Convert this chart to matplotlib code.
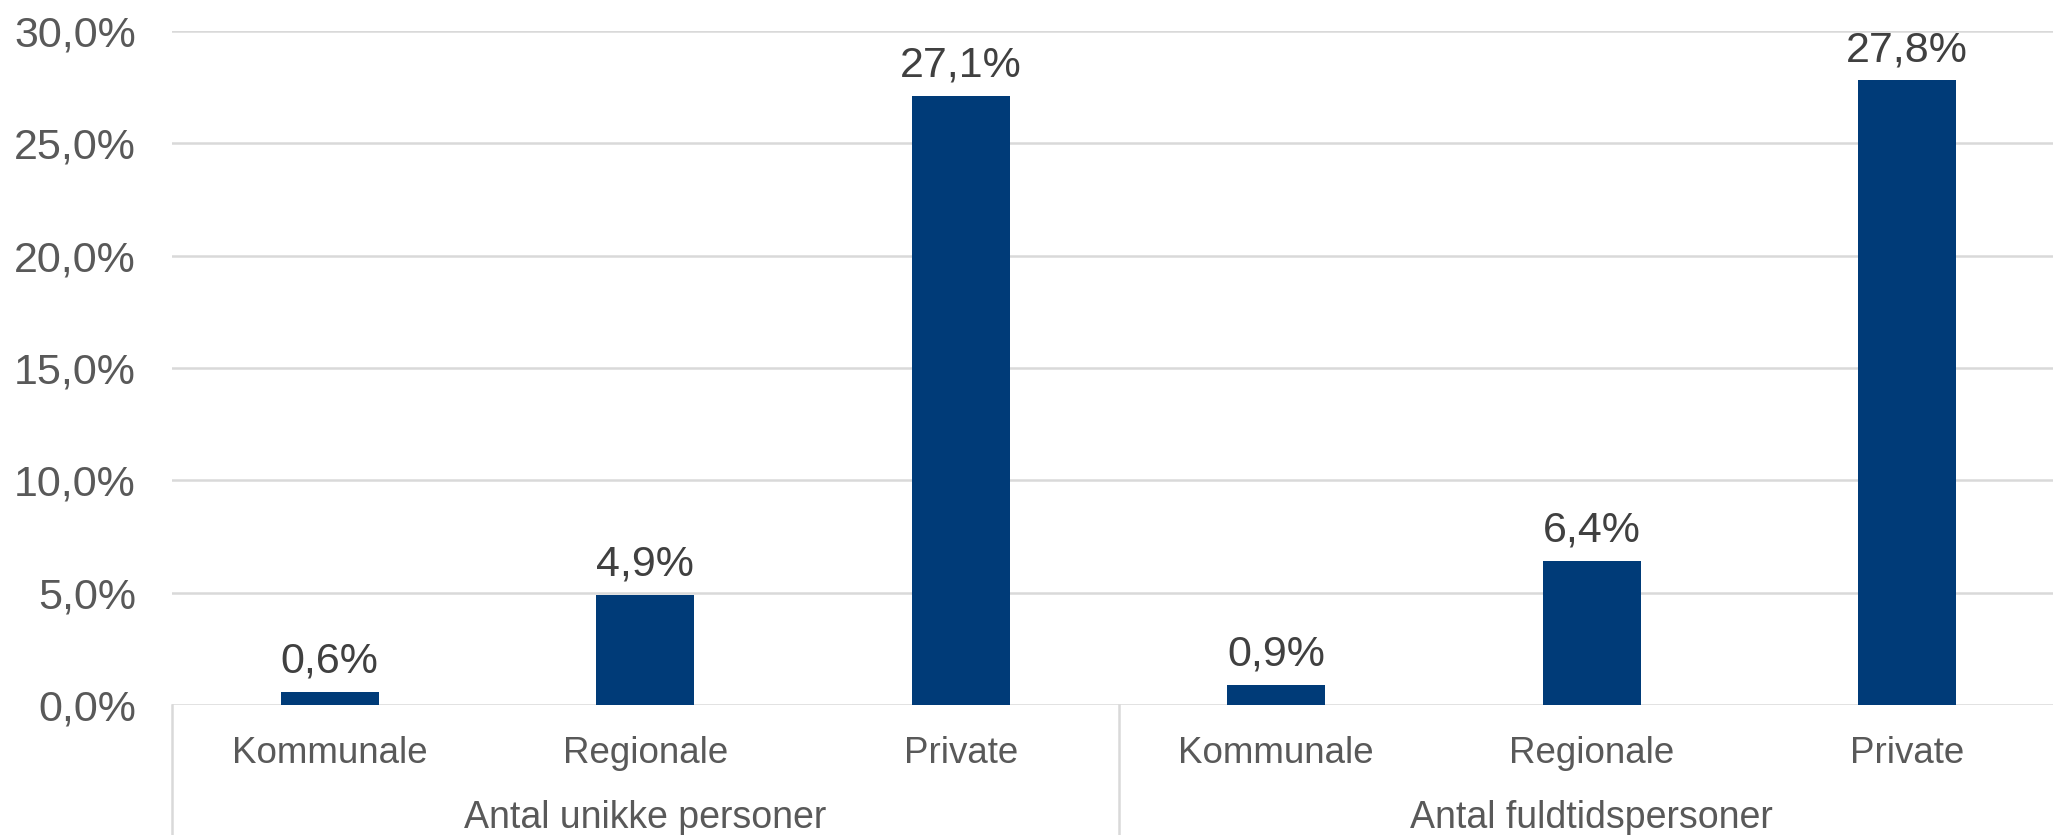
import matplotlib.pyplot as plt
from matplotlib.transforms import blended_transform_factory

plt.rcParams['font.family'] = ['Liberation Sans', 'DejaVu Sans']

# data
groups = ['Antal unikke personer', 'Antal fuldtidspersoner']
categories = ['Kommunale', 'Regionale', 'Private']
values_unikke = [0.6, 4.9, 27.1]
values_fuldtid = [0.9, 6.4, 27.8]
yticks = [0, 5, 10, 15, 20, 25, 30]

values = values_unikke + values_fuldtid
labels = categories * len(groups)
x = list(range(len(values)))

bar_color = '#003B78'
grid_color = '#D9D9D9'
tick_color = '#595959'
label_color = '#404040'

fig = plt.figure(figsize=(20.53, 8.35), dpi=100)
ax = fig.add_axes([172 / 2053, 130 / 835, (2065 - 172) / 2053, 674 / 835])

ax.bar(x, values, width=0.31, color=bar_color, zorder=3)

for xi, v in zip(x, values):
    ax.annotate(f'{v:.1f}%'.replace('.', ','), (xi, v), xytext=(0, 7.5),
                textcoords='offset points', ha='center', va='bottom',
                fontsize=31, color=label_color)

ax.set_xlim(-0.5, len(values) - 0.5)
ax.set_ylim(0, 30)
ax.set_yticks(yticks)
ax.set_yticklabels([f'{t:.1f}%'.replace('.', ',') for t in yticks])
ax.yaxis.grid(True, color=grid_color, linewidth=1.8, zorder=0)
ax.set_axisbelow(True)
for s in ax.spines.values():
    s.set_visible(False)
ax.tick_params(axis='y', length=0, pad=26, labelsize=31, labelcolor=tick_color)

ax.set_xticks(x)
ax.set_xticklabels(labels)
ax.tick_params(axis='x', length=0, pad=22, labelsize=26.5, labelcolor=tick_color)

# multi-level category axis
trans = blended_transform_factory(ax.transData, ax.transAxes)
bottom = -130 / 674
for sep in [-0.5, 2.5]:
    ax.plot([sep, sep], [0, bottom], transform=trans, color=grid_color,
            linewidth=1.8, clip_on=False)
for i, g in enumerate(groups):
    ax.text(i * 3 + 1, -113 / 674, g, transform=trans, ha='center', va='center',
            fontsize=27, color=tick_color)

fig.savefig('out.png', dpi=100)
